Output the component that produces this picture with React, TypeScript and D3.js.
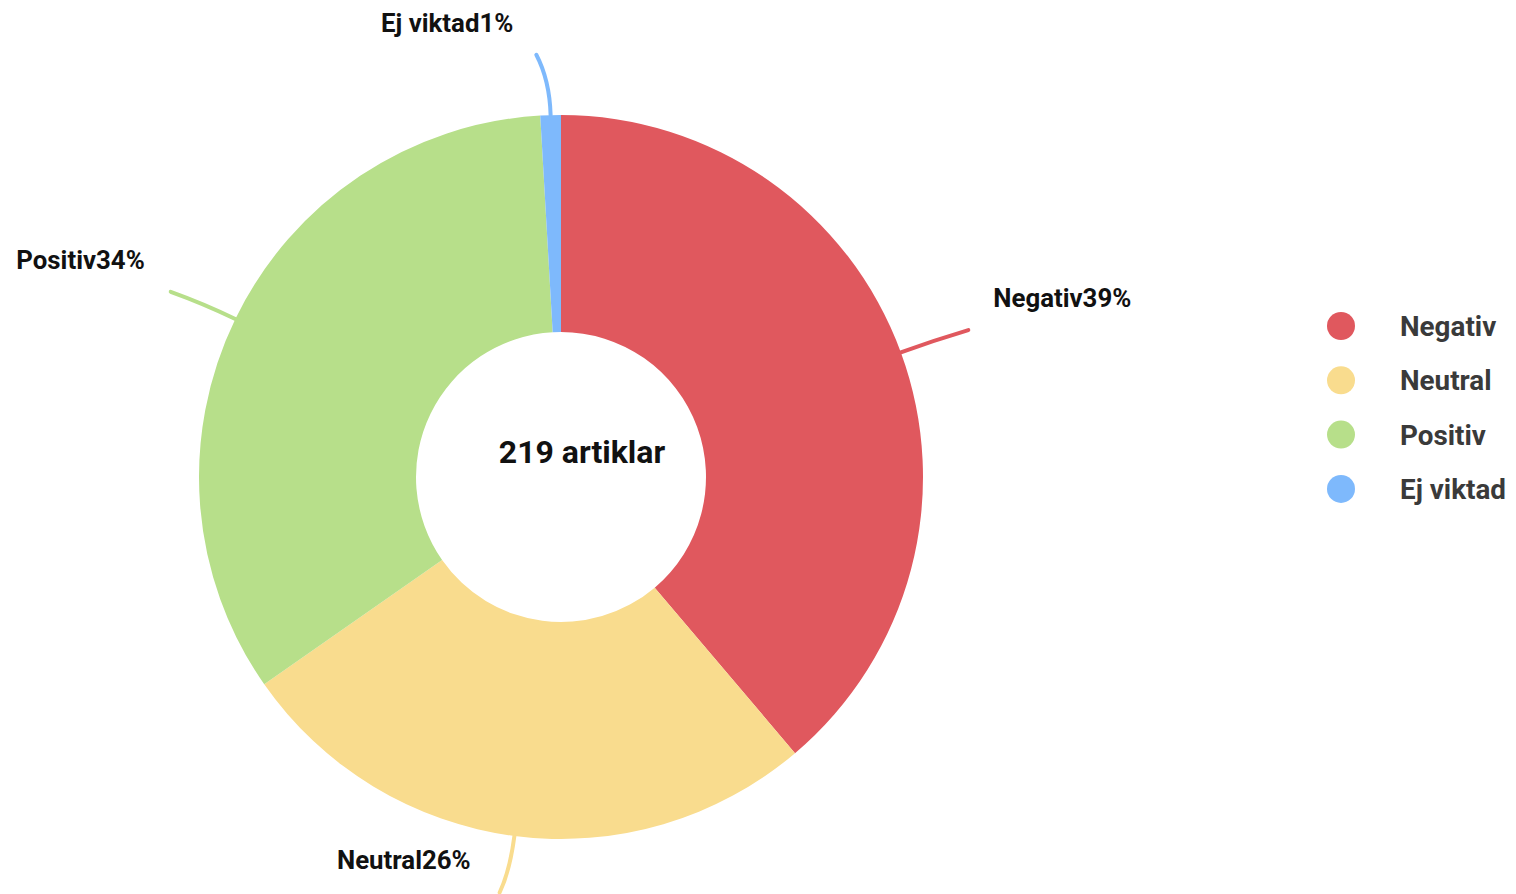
import { useMemo } from 'react';
import * as d3 from 'd3';

// Sentiment breakdown of 219 articles
const categories = ['Negativ', 'Neutral', 'Positiv', 'Ej viktad'];
const counts = [85, 58, 74, 2];
const colors = ['#E0585E', '#F9DC8E', '#B7DF8A', '#7EB9FC'];
const centerLabel = '219 artiklar';

const WIDTH = 1516;
const HEIGHT = 894;
const FONT = 'Roboto, "Noto Sans", sans-serif';

export default function App() {
  const cx = 561;
  const cy = 477;
  const outerR = 362;
  const innerR = 145;

  const arcs = useMemo(
    () =>
      d3
        .pie<number>()
        .sort(null)
        .value(d => d)(counts),
    []
  );

  const arcGen = d3.arc<d3.PieArcDatum<number>>().innerRadius(innerR).outerRadius(outerR);
  const total = d3.sum(counts);

  // polar helper, angle measured clockwise from 12 o'clock
  const polar = (a: number, r: number): [number, number] => [
    cx + r * Math.sin(a),
    cy - r * Math.cos(a),
  ];

  // leader line end: angle nudge (deg) and radius per slice
  const shift = [0.3, 1.0, -0.5, -1.7];
  const endR = [433, 420, 432, 423];
  const gap = [25, 29, 26, 23];

  return (
    <svg
      width={WIDTH}
      height={HEIGHT}
      style={{ position: 'absolute', left: 0, top: 0, background: '#fff' }}
    >
      <g transform={`translate(${cx},${cy})`}>
        {arcs.map((a, i) => (
          <path key={categories[i]} d={arcGen(a) || ''} fill={colors[i]} />
        ))}
      </g>

      {/* leader lines + labels */}
      {arcs.map((a, i) => {
        const mid = (a.startAngle + a.endAngle) / 2;
        const p0 = polar(mid, outerR);
        const c = polar(mid, outerR + 35);
        const p2 = polar(mid + (shift[i] * Math.PI) / 180, endR[i]);
        const path = d3.path();
        path.moveTo(p0[0], p0[1]);
        path.quadraticCurveTo(c[0], c[1], p2[0], p2[1]);
        const right = p2[0] > cx;
        const pct = Math.round((counts[i] / total) * 100);
        return (
          <g key={categories[i]}>
            <path
              d={path.toString()}
              fill="none"
              stroke={colors[i]}
              strokeWidth={4}
              strokeLinecap="round"
            />
            <text
              x={right ? p2[0] + gap[i] : p2[0] - gap[i]}
              y={p2[1] - 23}
              textAnchor={right ? 'start' : 'end'}
              fontFamily={FONT}
              fontWeight={700}
              fontSize={25.8}
              fill="#111"
            >
              {categories[i]}
              {pct}%
            </text>
          </g>
        );
      })}

      <text
        x={582}
        y={463}
        textAnchor="middle"
        fontFamily={FONT}
        fontWeight={700}
        fontSize={32}
        fill="#111"
      >
        {centerLabel}
      </text>

      {/* legend */}
      <g transform="translate(1341,326)">
        {categories.map((name, i) => (
          <g key={name} transform={`translate(0,${i * 54.3})`}>
            <circle r={14} fill={colors[i]} />
            <text
              x={59}
              y={10}
              fontFamily={FONT}
              fontWeight={700}
              fontSize={27.8}
              fill="#3a3a3a"
            >
              {name}
            </text>
          </g>
        ))}
      </g>
    </svg>
  );
}
